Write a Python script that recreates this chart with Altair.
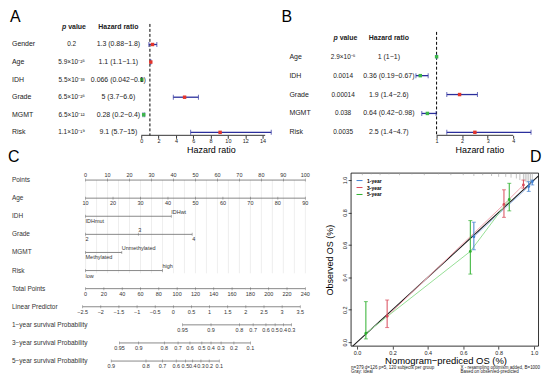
import altair as alt
import pandas as pd

FONT = "Liberation Sans"
RED = "#e4352b"
GREEN = "#3cb54a"
NAVY = "#2b2f9c"
INK = "#222222"

# ---------------- Panel A: univariate Cox ----------------
a_vars = ["Gender", "Age", "IDH", "Grade", "MGMT", "Risk"]
a_pval = ["0.2", "5.9×10⁻²⁵", "5.5×10⁻³³", "6.5×10⁻²⁶", "6.5×10⁻¹²", "1.1×10⁻¹⁹"]
a_hr = [1.3, 1.1, 0.066, 5.0, 0.28, 9.1]
a_lo = [0.88, 1.1, 0.042, 3.7, 0.2, 5.7]
a_hi = [1.8, 1.1, 0.1, 6.6, 0.4, 15.0]
a_hr_text = ["1.3 (0.88−1.8)", "1.1 (1.1−1.1)", "0.066 (0.042−0.1)", "5 (3.7−6.6)",
             "0.28 (0.2−0.4)", "9.1 (5.7−15)"]
a_ticks = [0, 2, 4, 6, 8, 10, 12, 14]

# ---------------- Panel B: multivariate Cox ----------------
b_vars = ["Age", "IDH", "Grade", "MGMT", "Risk"]
b_pval = ["2.9×10⁻⁵", "0.0014", "0.00014", "0.038", "0.0035"]
b_hr = [1.0, 0.36, 1.9, 0.64, 2.5]
b_lo = [1.0, 0.19, 1.4, 0.42, 1.4]
b_hi = [1.0, 0.67, 2.6, 0.98, 4.7]
b_hr_text = ["1 (1−1)", "0.36 (0.19−0.67)", "1.9 (1.4−2.6)", "0.64 (0.42−0.98)", "2.5 (1.4−4.7)"]
b_ticks = [1, 2, 3, 4]

# ---------------- Panel C: nomogram ----------------
c_rows = ["Points", "Age", "IDH", "Grade", "MGMT", "Risk", "Total Points", "Linear Predictor",
          "1−year survival Probability", "3−year survival Probability", "5−year survival Probability"]
points_ticks = [0, 10, 20, 30, 40, 50, 60, 70, 80, 90, 100]
age_ticks = [10, 20, 30, 40, 50, 60, 70, 80, 90]
age_span = (10, 90)
idh_levels = ["IDHmut", "IDHwt"]
idh_pts = [0, 39]
grade_levels = ["2", "3", "4"]
grade_pts = [0, 24, 48.5]
mgmt_levels = ["Methylated", "Unmethylated"]
mgmt_pts = [0, 16.5]
risk_levels = ["low", "high"]
risk_pts = [0, 35]
total_ticks = [0, 20, 40, 60, 80, 100, 120, 140, 160, 180, 200, 220, 240]
total_max = 240
lp_ticks = [-2.5, -2, -1.5, -1, -0.5, 0, 0.5, 1, 1.5, 2, 2.5, 3, 3.5]
lp_span = (-2.42, 3.64)  # linear predictor at 0 and 240 total points
surv1_labels = ["0.95", "0.9", "0.8", "0.7", "0.6", "0.5", "0.4", "0.3"]
surv1_total = [106, 137, 168, 183, 197, 207, 216, 225]
surv3_labels = ["0.95", "0.9", "0.8", "0.7", "0.6", "0.5", "0.4", "0.3", "0.2", "0.1"]
surv3_total = [37, 58, 86, 101, 114, 127, 137, 148, 162, 180]
surv5_labels = ["0.9", "0.8", "0.7", "0.6", "0.5", "0.4", "0.3", "0.2", "0.1"]
surv5_total = [28, 66, 84, 99, 109, 117, 126, 135, 146]

# ---------------- Panel D: calibration ----------------
years = ["1-year", "3-year", "5-year"]
y1_pred = [0.66, 0.97, 0.99]
y1_obs = [0.65, 0.96, 0.99]
y1_lo = [0.57, 0.93, 0.97]
y1_hi = [0.74, 0.99, 1.0]
y3_pred = [0.17, 0.83, 0.94]
y3_obs = [0.16, 0.85, 0.97]
y3_lo = [0.09, 0.77, 0.95]
y3_hi = [0.26, 0.94, 1.0]
y5_pred = [0.05, 0.64, 0.86]
y5_obs = [0.055, 0.56, 0.88]
y5_lo = [0.02, 0.42, 0.81]
y5_hi = [0.25, 0.75, 0.98]
spike_x = [0.03, 0.08, 0.13, 0.18, 0.24, 0.31, 0.38, 0.46, 0.53, 0.6, 0.66, 0.71, 0.76, 0.8,
           0.84, 0.87, 0.9, 0.92, 0.94, 0.95, 0.96, 0.97, 0.98, 0.99]
spike_end = [1.03, 1.035, 1.03, 1.035, 1.03, 1.035, 1.03, 1.035, 1.03, 1.03, 1.025, 1.03, 1.025,
             1.02, 1.02, 1.015, 1.01, 1.0, 0.995, 0.99, 0.985, 0.99, 0.98, 0.99]
bar_colors = ["#3f7fd0", "#d94a5a", "#2db02d"]
line_colors = ["#a9c6ee", "#f0a3ad", "#95df95"]

# ---------------- layout (pixels in the single plot area) ----------------
W, H = 534, 339


def xdom(val, px, ppu):
    return [val - px / ppu, val + (W - px) / ppu]


def ydom(val, px, ppu):  # px measured from top, values increase upwards
    return [val - (H - px) / ppu, val + px / ppu]


def row_scale(first_px, step):
    # row index 0 at first_px, increasing downwards by `step` pixels
    return alt.Scale(domain=[-first_px / step, (H - first_px) / step], reverse=True,
                     nice=False, zero=False)


def forest(letter, letter_x, vars_, pvals, hrs, los, his, hr_txt, ticks, x_anchor, axis_span,
           first_px, step, lab_x, p_x, hr_x, ph_right, title_x, dash_top, axis_px):
    df = pd.DataFrame({"var": vars_, "idx": list(range(1, len(vars_) + 1)), "p": pvals,
                       "hr": hrs, "lo": los, "hi": his, "txt": hr_txt})
    ys = row_scale(first_px, step)
    y = alt.Y("idx:Q", scale=ys, axis=None)
    xs = alt.Scale(domain=xdom(*x_anchor), nice=False, zero=False)
    ax = alt.Axis(values=ticks, orient="bottom", offset=axis_px - H, title="Hazard ratio",
                  grid=False, domain=False, tickSize=3, tickColor="black", tickWidth=0.8,
                  labelFontSize=5.5, labelPadding=0, labelColor=INK, titleFontSize=9,
                  titleFontWeight="normal", titleColor="black", titleX=title_x, titleY=10,
                  titleBaseline="top")

    def X(f):
        return alt.X(f"{f}:Q", scale=xs, axis=ax, title="Hazard ratio")

    base = alt.Chart(df)
    names = base.mark_text(align="left", fontSize=7, color=INK).encode(
        x=alt.value(lab_x), y=y, text="var:N")
    pv = base.mark_text(align="center", fontSize=6.5, color=INK).encode(
        x=alt.value(p_x), y=y, text="p:N")
    hrt = base.mark_text(align="center", fontSize=7, color=INK).encode(
        x=alt.value(hr_x), y=y, text="txt:N")
    hdr = alt.Chart(pd.DataFrame({"idx": [0]}))
    h1 = hdr.mark_text(text="p", align="right", fontSize=7, fontWeight="bold",
                       fontStyle="italic", color=INK).encode(x=alt.value(ph_right), y=y)
    h2 = hdr.mark_text(text="value", align="left", fontSize=7, fontWeight="bold",
                       color=INK).encode(x=alt.value(ph_right + 2), y=y)
    h3 = hdr.mark_text(text="Hazard ratio", align="center", fontSize=7, fontWeight="bold",
                       color=INK).encode(x=alt.value(hr_x), y=y)
    dash = alt.Chart(pd.DataFrame({"ref": [1.0]})).mark_rule(
        color="black", strokeDash=[3, 2], strokeWidth=1).encode(
        x=X("ref"), y=alt.value(dash_top), y2=alt.value(axis_px))
    ci = base.mark_rule(color=NAVY, strokeWidth=1.3).encode(x=X("lo"), x2="hi:Q", y=y)
    cap_lo = base.mark_tick(color=NAVY, size=5, thickness=1, orient="vertical").encode(
        x=X("lo"), y=y)
    cap_hi = base.mark_tick(color=NAVY, size=5, thickness=1, orient="vertical").encode(
        x=X("hi"), y=y)
    pts = base.mark_square(size=12, opacity=1).encode(
        x=X("hr"), y=y,
        color=alt.condition("datum.hr > 1", alt.value(RED), alt.value(GREEN)))
    axl = alt.Chart(pd.DataFrame({"a": [axis_span[0]], "b": [axis_span[1]]})).mark_rule(
        color="black", strokeWidth=0.8).encode(x=X("a"), x2="b:Q", y=alt.value(axis_px))
    let = alt.Chart(pd.DataFrame({"t": [letter]})).mark_text(
        align="left", baseline="middle", fontSize=16, color="black").encode(
        x=alt.value(letter_x), y=alt.value(8), text="t:N")
    return alt.layer(dash, ci, cap_lo, cap_hi, pts, axl, names, pv, hrt, h1, h2, h3, let)


panel_a = forest("A", 2, a_vars, a_pval, a_hr, a_lo, a_hi, a_hr_text, a_ticks,
                 (0, 134, 8.714), [0, 14.3], 18, 17.67, 4, 64, 111, 58.5, 204, 15, 127)
panel_b = forest("B", 275, b_vars, b_pval, b_hr, b_lo, b_hi, b_hr_text, b_ticks,
                 (1, 431, 25.67), [1, 4], 29, 19, 283, 337, 383, 331.5, 474, 23, 127)


# ---------------- nomogram tables ----------------
def fmt(v):
    return f"{v:g}".replace("-", "−")


tick_rows = []
line_rows = []


def put(row, labels, pos, sides, kind):
    i = c_rows.index(row)
    for lab, p, s in zip(labels, pos, sides):
        tick_rows.append({"row": row, "idx": i, "label": lab, "pos": p, "side": s, "kind": kind})
    line_rows.append({"row": row, "idx": i, "start": min(pos), "end": max(pos)})


put("Points", [fmt(v) for v in points_ticks], points_ticks, ["above"] * len(points_ticks), "num")
put("Age", [fmt(v) for v in age_ticks],
    [(v - age_span[0]) * 100 / (age_span[1] - age_span[0]) for v in age_ticks],
    ["below"] * len(age_ticks), "num")
put("IDH", idh_levels, idh_pts, ["below", "above"], "cat")
put("Grade", grade_levels, grade_pts, ["below", "above", "below"], "cat")
put("MGMT", mgmt_levels, mgmt_pts, ["below", "above"], "cat")
put("Risk", risk_levels, risk_pts, ["below", "above"], "cat")
put("Total Points", [fmt(v) for v in total_ticks], [v * 100 / total_max for v in total_ticks],
    ["below"] * len(total_ticks), "num")
put("Linear Predictor", [fmt(v) for v in lp_ticks],
    [(v - lp_span[0]) * 100 / (lp_span[1] - lp_span[0]) for v in lp_ticks],
    ["below"] * len(lp_ticks), "num")
put(c_rows[8], surv1_labels, [t * 100 / total_max for t in surv1_total],
    ["below"] * len(surv1_labels), "num")
put(c_rows[9], surv3_labels, [t * 100 / total_max for t in surv3_total],
    ["below"] * len(surv3_labels), "num")
put(c_rows[10], surv5_labels, [t * 100 / total_max for t in surv5_total],
    ["below"] * len(surv5_labels), "num")

ticks_df = pd.DataFrame(tick_rows)
lines_df = pd.DataFrame(line_rows)
grid_df = pd.DataFrame({"g": list(range(0, 101, 5)), "top": [0] * 21,
                        "bot": [c_rows.index("Risk") + 0.15] * 21})
rows_df = pd.DataFrame({"row": c_rows, "idx": list(range(len(c_rows)))})

cys = row_scale(172, 18.2)
cy = alt.Y("idx:Q", scale=cys, axis=None)
cxs = alt.Scale(domain=xdom(0, 78, 2.21), nice=False, zero=False)


def CX(f):
    return alt.X(f"{f}:Q", scale=cxs, axis=None)


def ctext(side, kind, dy, align):
    sub = ticks_df[(ticks_df.side == side) & (ticks_df.kind == kind)]
    return alt.Chart(sub).mark_text(fontSize=5.5, color="#333", dy=dy, align=align).encode(
        x=CX("pos"), y=cy, text="label:N")


grid = alt.Chart(grid_df).mark_rule(color="#e2e2e2", strokeWidth=0.6).encode(
    x=CX("g"), y=alt.Y("top:Q", scale=cys, axis=None), y2="bot:Q")
c_lines = alt.Chart(lines_df).mark_rule(color="#6a6a6a", strokeWidth=0.8).encode(
    x=CX("start"), x2="end:Q", y=cy)
c_ticks = alt.Chart(ticks_df).mark_tick(color="#6a6a6a", size=3, thickness=0.7,
                                        orient="vertical").encode(x=CX("pos"), y=cy)
row_labels = alt.Chart(rows_df).mark_text(fontSize=6.5, color="#333", align="left").encode(
    x=alt.value(4), y=cy, text="row:N")
c_letter = alt.Chart(pd.DataFrame({"t": ["C"]})).mark_text(
    fontSize=16, align="left", baseline="middle", color="black").encode(
    x=alt.value(0), y=alt.value(149), text="t:N")
panel_c = alt.layer(grid, c_lines, c_ticks, ctext("above", "num", -5.5, "center"),
                    ctext("below", "num", 5, "center"), ctext("above", "cat", -4.5, "left"),
                    ctext("below", "cat", 5, "left"), row_labels, c_letter)

# ---------------- calibration ----------------
cal = pd.DataFrame({
    "year": [years[0]] * 3 + [years[1]] * 3 + [years[2]] * 3,
    "pred": y1_pred + y3_pred + y5_pred,
    "obs": y1_obs + y3_obs + y5_obs,
    "lo": y1_lo + y3_lo + y5_lo,
    "hi": y1_hi + y3_hi + y5_hi,
})
cal["bc"] = cal["year"].map(dict(zip(years, bar_colors)))
cal["lc"] = cal["year"].map(dict(zip(years, line_colors)))

D_X0, D_XPPU = 351, 178      # pixel of predicted 0, pixels per unit
D_Y0, D_YPPU = 335, 163      # pixel of observed 0 (from top), pixels per unit
frame_l = (345 - D_X0) / D_XPPU
frame_r = (533.5 - D_X0) / D_XPPU
frame_b = (D_Y0 - H) / D_YPPU
frame_t = (D_Y0 - 165) / D_YPPU
ideal = [frame_b, frame_r]

dxs = alt.Scale(domain=xdom(0, D_X0, D_XPPU), nice=False, zero=False)
dys = alt.Scale(domain=ydom(0, D_Y0, D_YPPU), nice=False, zero=False)
xax = alt.Axis(values=[0, 0.2, 0.4, 0.6, 0.8, 1.0], format=".1f", orient="bottom", offset=0,
               grid=False, domain=False, tickSize=3, tickColor="black", tickWidth=0.7,
               labelFontSize=5.5, labelPadding=1, labelColor=INK,
               title="Nomogram−prediced OS (%)", titleFontSize=9.5, titleFontWeight="normal",
               titleColor="black", titleX=440, titleY=9.5, titleBaseline="top")
yax = alt.Axis(values=[0, 0.2, 0.4, 0.6, 0.8, 1.0], format=".1f", orient="left", offset=-345,
               grid=False, domain=False, tickSize=3, tickColor="black", tickWidth=0.7,
               labelFontSize=5.5, labelPadding=1, labelAngle=-90, labelAlign="center",
               labelBaseline="bottom", labelColor=INK, title="Observed OS (%)",
               titleFontSize=9, titleFontWeight="normal", titleColor="black",
               titleX=-22, titleY=252, titleAngle=-90, titleAlign="center",
               titleBaseline="middle")


def DX(f):
    return alt.X(f"{f}:Q", scale=dxs, axis=xax, title="Nomogram−prediced OS (%)")


def DY(f):
    return alt.Y(f"{f}:Q", scale=dys, axis=yax, title="Observed OS (%)")


col_bar = alt.Color("year:N", scale=alt.Scale(domain=years, range=bar_colors),
                    legend=alt.Legend(orient="none", legendX=350, legendY=169, title=None,
                                      direction="vertical", labelFontSize=5,
                                      labelFontWeight="bold", symbolType="stroke",
                                      symbolSize=36, symbolStrokeWidth=1, padding=0,
                                      rowPadding=0, labelOffset=4, labelColor="black"))

frame = alt.Chart(pd.DataFrame({"l": [frame_l], "r": [frame_r], "b": [frame_b], "t": [frame_t]})
                  ).mark_rect(fill=None, stroke="black", strokeWidth=0.8).encode(
    x=DX("l"), x2="r:Q", y=DY("b"), y2="t:Q")
spikes = alt.Chart(pd.DataFrame({"sx": spike_x, "se": spike_end, "top": [frame_t] * len(spike_x)})
                   ).mark_rule(color="#9a9a9a", strokeWidth=0.6).encode(
    x=DX("sx"), y=DY("se"), y2="top:Q")
ideal_line = alt.Chart(pd.DataFrame({"ix": ideal, "iy": ideal})).mark_line(
    color="#1a1a1a", strokeWidth=1.1).encode(x=DX("ix"), y=DY("iy"))
cal_lines = alt.Chart(cal).mark_line(strokeWidth=1).encode(
    x=DX("pred"), y=DY("obs"), stroke=alt.Stroke("lc:N", scale=None), detail="year:N",
    order="pred:Q")
bars = alt.Chart(cal).mark_rule(strokeWidth=1).encode(
    x=DX("pred"), y=DY("lo"), y2="hi:Q", color=col_bar)
caps_lo = alt.Chart(cal).mark_tick(orient="horizontal", size=4, thickness=1).encode(
    x=DX("pred"), y=DY("lo"), fill=alt.Fill("bc:N", scale=None))
caps_hi = alt.Chart(cal).mark_tick(orient="horizontal", size=4, thickness=1).encode(
    x=DX("pred"), y=DY("hi"), fill=alt.Fill("bc:N", scale=None))
cal_pts = alt.Chart(cal).mark_circle(size=8, opacity=1).encode(
    x=DX("pred"), y=DY("obs"), fill=alt.Fill("bc:N", scale=None))
notes = pd.DataFrame({
    "t": ["n=379 d=126 p=5, 120 subjects per group", "Gray: ideal",
          "X - resampling optimism added, B=1000", "Based on observed-predicted"],
    "px": [345, 345, 455, 455], "py": [361, 365, 361, 365]})
note_layers = [alt.Chart(notes.iloc[[i]]).mark_text(fontSize=4.5, align="left", color="#222").encode(
    x=alt.value(float(notes.px[i])), y=alt.value(float(notes.py[i])), text="t:N") for i in range(4)]
d_letter = alt.Chart(pd.DataFrame({"t": ["D"]})).mark_text(
    fontSize=16, align="left", baseline="middle", color="black").encode(
    x=alt.value(525), y=alt.value(149), text="t:N")
panel_d = alt.layer(frame, spikes, ideal_line, cal_lines, bars, caps_lo, caps_hi, cal_pts,
                    *note_layers, d_letter)

chart = alt.layer(panel_a, panel_b, panel_c, panel_d).resolve_scale(
    x="independent", y="independent").properties(width=W, height=H, padding=0).configure(
    font=FONT).configure_view(stroke=None)

chart.save("out.html", embed_options={"renderer": "svg", "actions": False})
